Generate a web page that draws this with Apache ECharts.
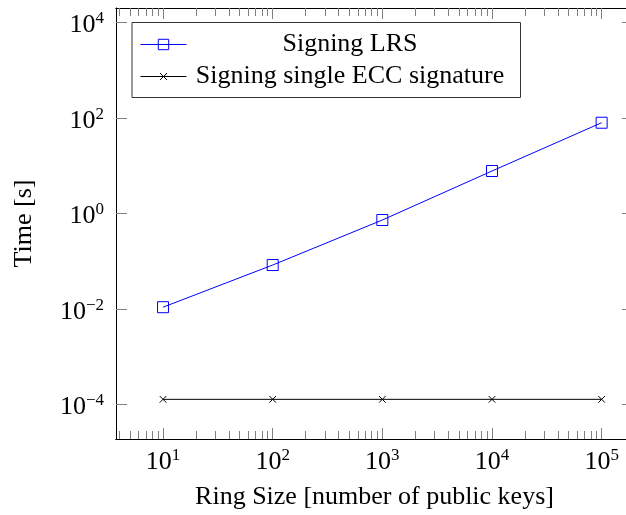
<!DOCTYPE html>
<html>
<head>
<meta charset="utf-8">
<script src="https://cdn.jsdelivr.net/npm/echarts@6/dist/echarts.min.js"></script>
<style>
html,body{margin:0;padding:0;background:#fff;}
#chart{width:626px;height:515px;}
</style>
</head>
<body>
<div id="chart"></div>
<script>
// ---- data ----
var ringSizes = [10, 100, 1000, 10000, 100000];
var lrsTimes  = [0.0108, 0.0826, 0.724, 7.69, 78.9];
var eccTimes  = [1.27e-4, 1.27e-4, 1.27e-4, 1.27e-4, 1.27e-4];
var seriesNames = ['Signing LRS', 'Signing single ECC signature'];
var xMajorExps = [1, 2, 3, 4, 5];
var yMajorExps = [-4, -2, 0, 2, 4];
var xLimits = [0.571, 5.286];   // log10 of axis limits
var yLimits = [-4.727, 4.30];
var xTitle = 'Ring Size [number of public keys]';
var yTitle = 'Time [s]';

// ---- build ----
var FONT = "'Liberation Serif', 'DejaVu Serif', serif";
function lg(v){ return Math.log10(v); }
function pairs(xs, ys){ return xs.map(function(x,i){ return [lg(x), lg(ys[i])]; }); }
var xMinor = [];
for (var e = 0; e <= 5; e++) for (var k = 2; k <= 9; k++) {
  var lv = e + lg(k);
  if (lv > xLimits[0] && lv < xLimits[1]) xMinor.push(lv);
}
function expLabel(v){
  var n = Math.round(v);
  var s = n < 0 ? '\u2212' + (-n) : String(n);
  return '{b|10}{s|' + s + '}';
}
var richExp = {
  b: {fontFamily: FONT, fontSize: 26, lineHeight: 24, padding: [6,0,0,0], color: '#000'},
  s: {fontFamily: FONT, fontSize: 17, lineHeight: 20, verticalAlign: 'top', color: '#000'}
};
var tickStyle = {color: '#808080', width: 1};
function xAxisDef(pos, major, showLabel){
  return {
    type: 'value', position: pos, min: xLimits[0], max: xLimits[1],
    axisLine: {show: true, onZero: false, lineStyle: {color: '#000', width: 1}},
    axisTick: {show: true, inside: true, length: major ? 11 : 8, lineStyle: tickStyle,
               customValues: major ? xMajorExps : xMinor},
    axisLabel: showLabel ? {show: true, customValues: xMajorExps, formatter: expLabel, rich: richExp, margin: 8} : {show: false},
    splitLine: {show: false},
    name: showLabel ? xTitle : '', nameLocation: 'middle', nameGap: 45,
    nameTextStyle: {fontFamily: FONT, fontSize: 26, color: '#000'}
  };
}
function yAxisDef(pos, showLabel){
  return {
    type: 'value', position: pos, min: yLimits[0], max: yLimits[1],
    axisLine: {show: true, onZero: false, lineStyle: {color: '#000', width: 1}},
    axisTick: {show: true, inside: true, length: 11, lineStyle: tickStyle, customValues: yMajorExps},
    axisLabel: showLabel ? {show: true, customValues: yMajorExps, formatter: expLabel, rich: richExp, margin: 12} : {show: false},
    splitLine: {show: false},
    name: showLabel ? yTitle : '', nameLocation: 'middle', nameGap: 79,
    nameTextStyle: {fontFamily: FONT, fontSize: 26, color: '#000'}
  };
}
var legendRich = {
  t: {fontFamily: FONT, fontSize: 26, lineHeight: 26, width: 313, align: 'center', color: '#000', padding: [0,0,0,2]}
};
var option = {
  animation: false,
  backgroundColor: '#fff',
  grid: {left: 116, top: 8, width: 517, height: 431, containLabel: false, outerBoundsMode: 'none'},
  xAxis: [xAxisDef('bottom', true, true), xAxisDef('bottom', false, false),
          xAxisDef('top', true, false), xAxisDef('top', false, false)],
  yAxis: [yAxisDef('left', true), yAxisDef('right', false)],
  legend: {
    orient: 'vertical', left: 132, top: 22.5,
    padding: [9, 14, 8, 8], itemGap: 6, itemWidth: 46, itemHeight: 13,
    borderColor: '#333', borderWidth: 1, backgroundColor: '#fff',
    lineStyle: {width: 1},
    itemStyle: {borderWidth: 1},
    data: seriesNames,
    formatter: function(n){ return '{t|' + n + '}'; },
    textStyle: {fontFamily: FONT, fontSize: 26, color: '#000', rich: legendRich}
  },
  series: [
    {
      name: seriesNames[0], type: 'line', xAxisIndex: 0, yAxisIndex: 0,
      data: pairs(ringSizes, lrsTimes),
      symbol: 'rect', symbolSize: 11,
      lineStyle: {color: '#0000ff', width: 1},
      itemStyle: {color: 'rgba(0,0,0,0)', borderColor: '#0000ff', borderWidth: 1},
      z: 3
    },
    {
      name: seriesNames[1], type: 'line', xAxisIndex: 0, yAxisIndex: 0,
      data: pairs(ringSizes, eccTimes),
      symbol: 'path://M-2.5,-2.5M0,0L10,10M10,0L0,10M12.5,12.5', symbolSize: 10,
      lineStyle: {color: '#000', width: 1},
      itemStyle: {color: 'rgba(0,0,0,0)', borderColor: '#000', borderWidth: 1},
      z: 2
    }
  ]
};
var chart = echarts.init(document.getElementById('chart'), null, {renderer: 'canvas'});
chart.setOption(option);
</script>
</body>
</html>
